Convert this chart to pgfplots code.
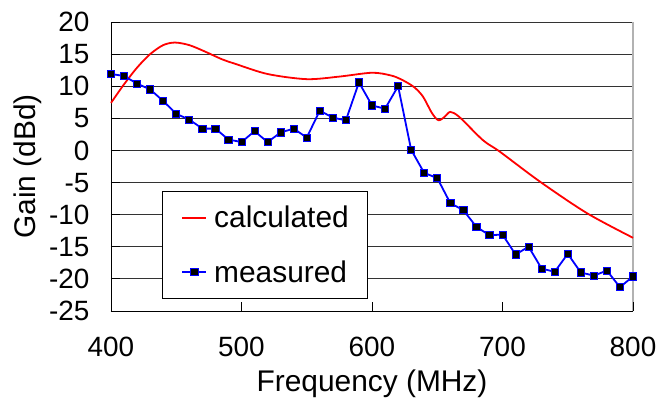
\documentclass[border=0pt]{standalone}
\usepackage{pgfplots}
\pgfplotsset{compat=1.18}
\usepackage{fontspec}
\setmainfont{Liberation Sans}
\begin{document}
\begin{tikzpicture}
\path[use as bounding box] (-111bp,-92bp) rectangle (550bp,311bp);
\begin{axis}[
  scale only axis, width=522bp, height=289bp,
  xmin=400, xmax=800, ymin=-25, ymax=20,
  axis lines=left, axis line style={-, line width=0.8bp, black},
  xtick={400,500,600,700,800}, ytick={-25,-20,...,20},
  tick align=inside, major tick length=9bp,
  tick style={black, line width=0.8bp},
  ymajorgrids, grid style={black!80, line width=0.8bp},
  /pgf/number format/assume math mode=true,
  ticklabel style={font=\fontsize{28}{30}\selectfont},
  xticklabel style={yshift=-23bp},
  yticklabel style={xshift=-18bp},
  xlabel={Frequency (MHz)},
  ylabel={Gain (dBd)},
  label style={font=\fontsize{30}{32}\selectfont},
  xlabel style={at={(axis description cs:0.5,0)}, anchor=base, yshift=-80.7bp},
  ylabel style={at={(axis description cs:0,0.5)}, anchor=center, rotate=0, yshift=83bp},
  legend style={at={(51bp,12bp)}, anchor=south west, draw=black, line width=0.8bp,
    font=\fontsize{30}{32}\selectfont, inner xsep=19bp, inner ysep=15bp,
    row sep=31bp, column sep=7bp, nodes={inner sep=0pt}},
  legend cell align=left,
  legend image code/.code={\draw[mark repeat=2,mark phase=2,#1] plot coordinates {(0bp,0bp) (12bp,0bp) (24bp,0bp)};},
  clip=false,
]
\draw[black!30, line width=1.2bp] (rel axis cs:1,0) -- (rel axis cs:1,1);
\draw[black, line width=0.8bp] (rel axis cs:1,0) -- ([yshift=9bp]rel axis cs:1,0);
\addplot[red, line width=1.8bp, smooth, tension=0.5] coordinates {
(400,7.4) (410,10.3) (420,12.9) (430,15.0) (440,16.4) (449,16.8) (460,16.4)
(472,15.4) (485,14.2) (495,13.5) (520,11.9) (550,11.1) (575,11.5) (600,12.1)
(614,11.7) (622,11.1) (632,9.9) (639,8.4) (646,5.8) (651,4.7) (656,5.3)
(660,6.0) (667,5.2) (685,1.6) (698,-0.2) (729,-4.9) (765,-9.8) (800,-13.6)
};
\addlegendentry{calculated}
\addplot[blue, line width=1.8bp, mark=square*, mark size=3.6bp,
  mark options={fill=black, draw=blue, line width=0.8bp}] coordinates {
(400,11.9) (410,11.6) (420,10.4) (430,9.5) (440,7.7) (450,5.7) (460,4.8)
(470,3.4) (480,3.4) (490,1.7) (500,1.3) (510,3.0) (520,1.3) (530,2.8)
(540,3.4) (550,2.0) (560,6.2) (570,5.1) (580,4.7) (590,10.6) (600,7.0)
(610,6.5) (620,10.0) (630,0.1) (640,-3.5) (650,-4.3) (660,-8.2) (670,-9.3)
(680,-11.9) (690,-13.2) (700,-13.1) (710,-16.2) (720,-15.0) (730,-18.4)
(740,-18.9) (750,-16.1) (760,-19.0) (770,-19.5) (780,-18.7) (790,-21.3) (800,-19.6)
};
\addlegendentry{measured}
\end{axis}
\end{tikzpicture}
\end{document}
